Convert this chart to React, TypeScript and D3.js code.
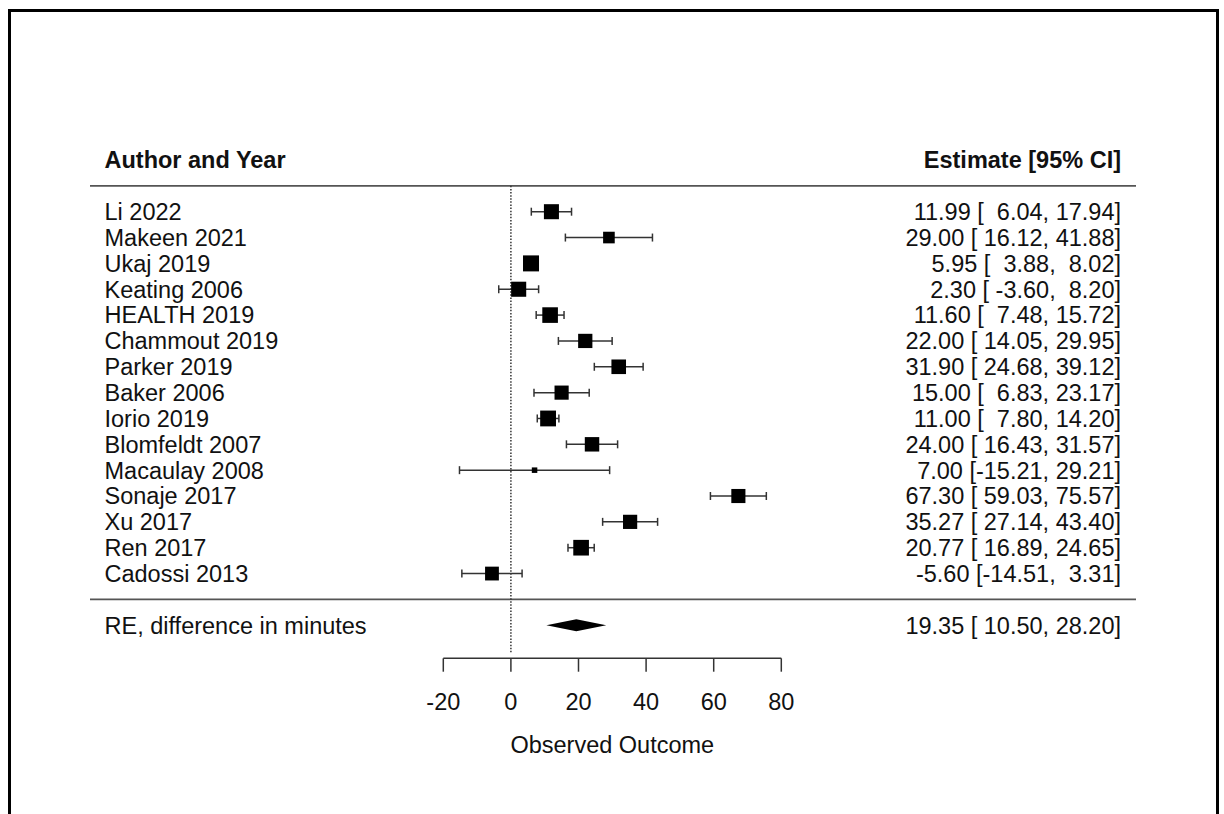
import { useEffect, useRef } from 'react'
import * as d3 from 'd3'

// study labels, top to bottom
const studies = [
  'Li 2022', 'Makeen 2021', 'Ukaj 2019', 'Keating 2006', 'HEALTH 2019',
  'Chammout 2019', 'Parker 2019', 'Baker 2006', 'Iorio 2019', 'Blomfeldt 2007',
  'Macaulay 2008', 'Sonaje 2017', 'Xu 2017', 'Ren 2017', 'Cadossi 2013',
]
const estimates = [11.99, 29.0, 5.95, 2.3, 11.6, 22.0, 31.9, 15.0, 11.0, 24.0, 7.0, 67.3, 35.27, 20.77, -5.6]
const lower = [6.04, 16.12, 3.88, -3.6, 7.48, 14.05, 24.68, 6.83, 7.8, 16.43, -15.21, 59.03, 27.14, 16.89, -14.51]
const upper = [17.94, 41.88, 8.02, 8.2, 15.72, 29.95, 39.12, 23.17, 14.2, 31.57, 29.21, 75.57, 43.4, 24.65, 3.31]
// random-effects weights (%)
const weights = [6.88, 6.18, 7.08, 6.89, 7.0, 6.72, 6.79, 6.7, 7.04, 6.76, 4.92, 6.69, 6.71, 7.01, 6.63]

const summaryLabel = 'RE, difference in minutes'
const summary = { est: 19.35, lb: 10.5, ub: 28.2 }

const xTicks = [-20, 0, 20, 40, 60, 80]
const xTitle = 'Observed Outcome'
const headLeft = 'Author and Year'
const headRight = 'Estimate [95% CI]'

const W = 1224
const H = 814
const FONT = '"Liberation Sans", Arial, sans-serif'
const FS = 23.5

export default function App() {
  const svgRef = useRef<SVGSVGElement>(null)

  useEffect(() => {
    if (!svgRef.current) return
    const svg = d3.select(svgRef.current)
    svg.selectAll('*').remove()

    const k = studies.length
    const x = d3.scaleLinear().domain([-20, 80]).range([443.3, 781.3])
    // row index: k..1 for studies, 0 for separator, -1 for summary
    const y = d3.scaleLinear().domain([0, k]).range([599.4, 211.7])
    const size = d3.scaleLinear()
      .domain(d3.extent(weights) as [number, number])
      .range([5.5, 16])

    const left = 104.5
    const right = 1121
    const ink = '#333'

    // border (bottom edge is off the page)
    svg.append('rect')
      .attr('x', 9.5).attr('y', 10.5)
      .attr('width', 1208).attr('height', 830)
      .attr('fill', 'none').attr('stroke', '#000').attr('stroke-width', 3)

    // plain hyphen minus, like R prints it
    const fmt = (v: number) => v.toFixed(2)
    const ci = (e: number, l: number, u: number) =>
      `${fmt(e).padStart(5)} [${fmt(l).padStart(6)}, ${fmt(u).padStart(5)}]`

    const txt = (tx: number, ty: number, s: string, anchor = 'start', bold = false) =>
      svg.append('text')
        .attr('x', tx).attr('y', ty)
        .attr('text-anchor', anchor)
        .attr('font-family', FONT)
        .attr('font-size', FS)
        .attr('font-weight', bold ? 'bold' : 'normal')
        .attr('fill', '#111')
        .style('white-space', 'pre')
        .text(s)

    const base = (r: number) => y(r) + 8.4

    // header
    txt(left, base(k + 2), headLeft, 'start', true)
    txt(right, base(k + 2), headRight, 'end', true)

    // separators
    ;[k + 1, 0].forEach(r => {
      svg.append('line')
        .attr('x1', 90).attr('x2', 1136)
        .attr('y1', y(r)).attr('y2', y(r))
        .attr('stroke', '#555').attr('stroke-width', 1.6)
    })

    // reference line at 0
    svg.append('line')
      .attr('x1', x(0)).attr('x2', x(0))
      .attr('y1', y(k + 1)).attr('y2', 654)
      .attr('stroke', ink).attr('stroke-width', 1.5)
      .attr('stroke-dasharray', '1.5,1.6')

    // studies
    studies.forEach((name, i) => {
      const r = k - i
      const cy = y(r)
      const g = svg.append('g')
      g.append('line')
        .attr('x1', x(lower[i])).attr('x2', x(upper[i]))
        .attr('y1', cy).attr('y2', cy)
        .attr('stroke', ink).attr('stroke-width', 1.5)
      ;[lower[i], upper[i]].forEach(v => {
        g.append('line')
          .attr('x1', x(v)).attr('x2', x(v))
          .attr('y1', cy - 4).attr('y2', cy + 4)
          .attr('stroke', ink).attr('stroke-width', 1.5)
      })
      const s = size(weights[i])
      g.append('rect')
        .attr('x', x(estimates[i]) - s / 2).attr('y', cy - s / 2)
        .attr('width', s).attr('height', s)
        .attr('fill', '#000')

      txt(left, base(r), name)
      txt(right, base(r), ci(estimates[i], lower[i], upper[i]), 'end')
    })

    // summary diamond
    const sy = y(-1)
    svg.append('polygon')
      .attr('points', [
        [x(summary.lb), sy], [x(summary.est), sy - 6],
        [x(summary.ub), sy], [x(summary.est), sy + 6],
      ].map(p => p.join(',')).join(' '))
      .attr('fill', '#000')
    txt(left, base(-1), summaryLabel)
    txt(right, base(-1), ci(summary.est, summary.lb, summary.ub), 'end')

    // x axis
    const axY = 658.3
    svg.append('line')
      .attr('x1', x(xTicks[0])).attr('x2', x(xTicks[xTicks.length - 1]))
      .attr('y1', axY).attr('y2', axY)
      .attr('stroke', ink).attr('stroke-width', 1.5)
    xTicks.forEach(t => {
      svg.append('line')
        .attr('x1', x(t)).attr('x2', x(t))
        .attr('y1', axY).attr('y2', axY + 13.4)
        .attr('stroke', ink).attr('stroke-width', 1.5)
      txt(x(t), 710, String(t), 'middle')
    })
    txt(x(30), 753, xTitle, 'middle')
  }, [])

  return (
    <svg
      ref={svgRef}
      width={W}
      height={H}
      style={{ position: 'absolute', left: 0, top: 0, background: '#fff' }}
    />
  )
}
